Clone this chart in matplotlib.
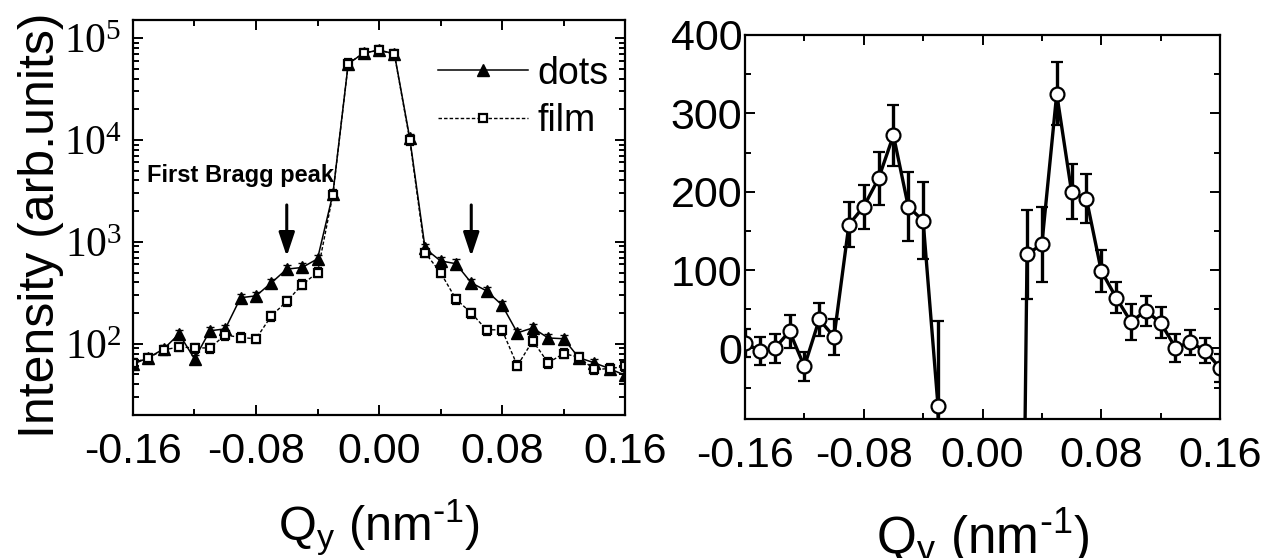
import numpy as np
import matplotlib
matplotlib.use("Agg")
import matplotlib.pyplot as plt
from matplotlib.ticker import MultipleLocator, FormatStrFormatter, LogLocator, NullFormatter
from matplotlib.lines import Line2D

plt.rcParams['font.family'] = ['Liberation Sans', 'DejaVu Sans']
plt.rcParams['axes.unicode_minus'] = False

# left panel: log intensity, dots vs film
qy = [-0.16, -0.15, -0.14, -0.13, -0.12, -0.11, -0.10, -0.09, -0.08, -0.07, -0.06,
      -0.05, -0.04, -0.03, -0.02, -0.01, 0.00, 0.01, 0.02, 0.03, 0.04, 0.05,
      0.06, 0.07, 0.08, 0.09, 0.10, 0.11, 0.12, 0.13, 0.14, 0.15, 0.16]
dots = [63, 73, 89, 125, 71, 134, 140, 283, 295, 396, 540, 560, 680, 2950, 56000, 71000,
        76000, 70000, 10400, 860, 650, 610, 396, 330, 240, 128, 143, 114, 112, 73, 65, 57, 49]
dots_err = [6, 7, 9, 12, 7, 13, 14, 28, 30, 40, 54, 56, 68, 300, 5600, 7100,
            7600, 7000, 1000, 86, 65, 61, 40, 33, 24, 13, 14, 11, 11, 7, 6, 6, 5]
film = [65, 73, 87, 93, 91, 91, 122, 115, 112, 188, 260, 380, 500, 2900, 56000, 71000,
        76000, 69000, 10000, 780, 500, 275, 200, 137, 137, 61, 107, 65, 80, 74, 56, 57, 60]
film_err = [6, 7, 9, 9, 9, 9, 12, 12, 11, 19, 26, 38, 50, 290, 5600, 7100,
            7600, 6900, 1000, 78, 50, 28, 20, 14, 14, 6, 11, 7, 8, 7, 6, 6, 6]

# right panel: difference signal (points at +-0.02 fall far below the axis)
qy_r = [-0.16, -0.15, -0.14, -0.13, -0.12, -0.11, -0.10, -0.09, -0.08, -0.07, -0.06,
        -0.05, -0.04, -0.03, -0.02, -0.01, 0.00, 0.01, 0.02, 0.03, 0.04, 0.05,
        0.06, 0.07, 0.08, 0.09, 0.10, 0.11, 0.12, 0.13, 0.14, 0.15, 0.16]
diff = [7, -3, 0, 22, -23, 37, 15, 158, 181, 217, 272, 181, 163, -73, -1500, np.nan,
        np.nan, np.nan, -1500, 120, 133, 325, 200, 191, 99, 65, 34, 48, 33, 1, 8, -3, -25]
diff_err = [18, 18, 19, 21, 18, 21, 23, 29, 28, 34, 39, 44, 49, 108, 0, 0,
            0, 0, 0, 57, 48, 40, 35, 31, 27, 20, 23, 19, 20, 18, 16, 16, 18]

xlab = r'Q$\mathregular{_y}$ (nm$\mathregular{^{\text{-}1}}$)'

fig = plt.figure(figsize=(12.65, 5.58), dpi=100)
ax1 = fig.add_axes([133 / 1265, 1 - 415 / 558, 492 / 1265, 395 / 558])
ax2 = fig.add_axes([745 / 1265, 1 - 419 / 558, 475 / 1265, 384 / 558])

for ax in (ax1, ax2):
    for s in ax.spines.values():
        s.set_linewidth(1.6)
    ax.tick_params(which='both', direction='in', top=True, right=True, width=1.4)
    ax.tick_params(which='major', length=7)
    ax.tick_params(which='minor', length=4)
    ax.set_xlim(-0.16, 0.16)
    ax.xaxis.set_major_locator(MultipleLocator(0.08))
    ax.xaxis.set_minor_locator(MultipleLocator(0.04))
    ax.xaxis.set_major_formatter(FormatStrFormatter('%.2f'))
    ax.tick_params(axis='x', labelsize=31, pad=12)

# left
ax1.errorbar(qy, dots, yerr=dots_err, fmt='-', marker='^', color='k', lw=1.1,
             ms=8, capsize=3, elinewidth=1.0, capthick=1.0)
ax1.errorbar(qy, film, yerr=film_err, fmt='--', marker='s', color='k', lw=1.0,
             ms=6, mfc='white', mew=1.6, capsize=3, elinewidth=1.0, capthick=1.0,
             dashes=(2.5, 1.5))
ax1.set_yscale('log')
ax1.set_ylim(20, 1.5e5)
ax1.yaxis.set_major_locator(LogLocator(base=10))
ax1.yaxis.set_minor_locator(LogLocator(base=10, subs=np.arange(2, 10)))
ax1.yaxis.set_minor_formatter(NullFormatter())
ax1.set_yticks([1e2, 1e3, 1e4, 1e5])
ax1.set_yticklabels([r'$\mathregular{10^{2}}$', r'$\mathregular{10^{3}}$',
                     r'$\mathregular{10^{4}}$', r'$\mathregular{10^{5}}$'],
                    family='Liberation Serif', fontsize=30)
ax1.tick_params(axis='y', pad=8)
ax1.set_ylabel('Intensity (arb.units)', fontsize=36)
ax1.yaxis.set_label_coords(-0.14, 0.48)
ax1.set_xlabel(xlab, fontsize=35)
ax1.xaxis.set_label_coords(0.5, -0.21)

handles = [Line2D([], [], color='k', lw=1.1, marker='^', ms=8),
           Line2D([], [], color='k', lw=1.0, ls=(0, (2.5, 1.5)), marker='s', ms=6,
                  mfc='white', mew=1.6)]
ax1.legend(handles, ['dots', 'film'], loc='upper left', bbox_to_anchor=(0.62, 0.91),
           frameon=False, fontsize=27, handlelength=2.4, handletextpad=0.25,
           labelspacing=0.3, borderpad=0, borderaxespad=0)

ax1.text(-0.151, 4500, 'First Bragg peak', fontsize=17, fontweight='bold', va='center')
for xa in (-0.06, 0.06):
    ax1.annotate('', xy=(xa, 720), xytext=(xa, 2300),
                 arrowprops=dict(arrowstyle='-|>,head_length=0.9,head_width=0.3',
                                 color='k', lw=2.2, mutation_scale=16, shrinkA=0, shrinkB=0))

# right
ax2.errorbar(qy_r, diff, yerr=diff_err, fmt='-', marker='o', color='k', lw=2.4,
             ms=10, mfc='white', mew=1.6, capsize=4, elinewidth=2.4, capthick=2.4)
ax2.set_ylim(-90, 400)
ax2.yaxis.set_major_locator(MultipleLocator(100))
ax2.yaxis.set_minor_locator(MultipleLocator(50))
ax2.tick_params(axis='y', labelsize=31, pad=2)
ax2.set_xlabel(xlab, fontsize=37)
ax2.xaxis.set_label_coords(0.5, -0.23)

fig.savefig('out.png', dpi=100)
